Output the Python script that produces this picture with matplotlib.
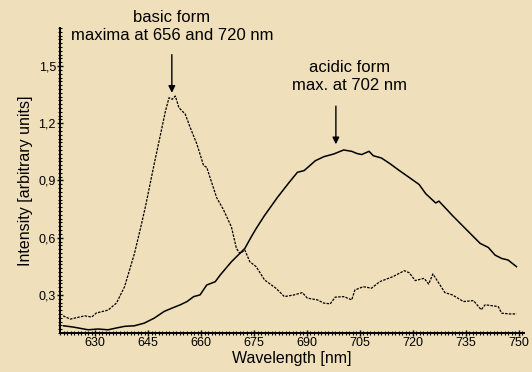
import matplotlib
matplotlib.use("Agg")
import matplotlib.pyplot as plt
from matplotlib.ticker import MultipleLocator, FuncFormatter

# basic form (dotted curve)
basic_nm = [620.9, 622.9, 627.0, 629.0, 630.3, 633.6, 636.0, 638.3, 641.1, 642.9,
            644.3, 646.7, 648.5, 649.9, 650.9, 651.8, 652.7, 653.7, 655.5, 656.9,
            658.8, 660.7, 661.6, 662.5, 664.4, 666.3, 668.6, 670.0, 671.0, 672.4,
            673.8, 675.6, 678.0, 681.2, 683.6, 686.4, 688.7, 690.1, 692.9, 694.8,
            696.6, 698.0, 700.4, 702.7, 703.6, 706.0, 708.3, 710.6, 714.4, 717.6,
            719.0, 720.7, 723.2, 724.5, 725.7, 729.1, 731.2, 734.4, 737.2, 739.4,
            740.5, 744.2, 745.2, 747.5, 749.4]
basic_val = [0.19, 0.173, 0.19, 0.184, 0.205, 0.22, 0.257, 0.343, 0.517, 0.656,
             0.77, 0.987, 1.143, 1.265, 1.334, 1.326, 1.343, 1.282, 1.248, 1.178,
             1.091, 0.978, 0.969, 0.917, 0.81, 0.748, 0.656, 0.544, 0.517, 0.535,
             0.474, 0.448, 0.378, 0.335, 0.291, 0.30, 0.312, 0.283, 0.274, 0.257,
             0.253, 0.288, 0.291, 0.274, 0.326, 0.343, 0.335, 0.369, 0.396, 0.427,
             0.416, 0.375, 0.387, 0.357, 0.41, 0.312, 0.30, 0.265, 0.27, 0.222,
             0.248, 0.239, 0.204, 0.20, 0.20]

# acidic form (solid curve)
acid_nm = [621.0, 623.8, 628.0, 630.8, 633.6, 635.9, 638.3, 641.1, 643.9, 646.7,
           649.5, 651.8, 654.1, 656.0, 657.9, 659.7, 661.6, 664.0, 665.4, 668.6,
           670.5, 672.4, 674.2, 675.6, 678.0, 681.7, 685.0, 687.3, 689.2, 692.4,
           694.8, 697.6, 700.4, 702.7, 704.1, 705.5, 707.6, 708.8, 711.1, 713.4,
           716.2, 718.6, 721.8, 723.7, 726.5, 727.4, 731.2, 734.9, 739.1, 741.4,
           743.3, 745.2, 747.0, 749.4]
acid_val = [0.138, 0.131, 0.117, 0.121, 0.117, 0.126, 0.135, 0.138, 0.152, 0.178,
            0.213, 0.231, 0.248, 0.265, 0.291, 0.30, 0.352, 0.369, 0.404, 0.474,
            0.509, 0.544, 0.604, 0.648, 0.717, 0.813, 0.891, 0.943, 0.952, 1.004,
            1.025, 1.039, 1.06, 1.053, 1.042, 1.036, 1.053, 1.03, 1.018, 0.99,
            0.952, 0.921, 0.879, 0.83, 0.782, 0.792, 0.717, 0.648, 0.57, 0.549,
            0.509, 0.491, 0.483, 0.448]

x_ticks = [630, 645, 660, 675, 690, 705, 720, 735, 750]
y_ticks = [0.3, 0.6, 0.9, 1.2, 1.5]

bg = '#efdfba'
plt.rcParams['font.family'] = ['Liberation Sans', 'DejaVu Sans']

fig = plt.figure(figsize=(5.32, 3.72), dpi=100, facecolor=bg)
ax = fig.add_axes([0.1128, 0.1048, 0.872, 0.82], facecolor=bg)

ax.plot(basic_nm, basic_val, color='black', lw=0.9, ls=(0, (2, 1)))
ax.plot(acid_nm, acid_val, color='black', lw=1.1)

ax.set_xlim(620, 751.5)
ax.set_ylim(0.1, 1.7)

for s in ['top', 'right']:
    ax.spines[s].set_visible(False)
for s in ['left', 'bottom']:
    ax.spines[s].set_linewidth(1.4)

ax.set_xticks(x_ticks)
ax.set_yticks(y_ticks)
ax.yaxis.set_major_formatter(FuncFormatter(lambda v, p: f'{v:.1f}'.replace('.', ',')))
ax.xaxis.set_minor_locator(MultipleLocator(1))
ax.yaxis.set_minor_locator(MultipleLocator(0.02))
ax.tick_params(which='major', direction='inout', length=4, width=1, labelsize=9, pad=1)
ax.tick_params(which='minor', direction='inout', length=2.5, width=0.8)

ax.set_xlabel('Wavelength [nm]', fontsize=11.5, labelpad=1)
ax.set_ylabel('Intensity [arbitrary units]', fontsize=11.5, labelpad=4)

arrow = dict(arrowstyle='-|>', color='black', lw=1, mutation_scale=10, shrinkA=0, shrinkB=0)

ax.text(651.7, 1.62, 'basic form\nmaxima at 656 and 720 nm',
        ha='center', va='bottom', fontsize=12, linespacing=1.25)
ax.annotate('', xy=(651.7, 1.36), xytext=(651.7, 1.56), arrowprops=arrow)

ax.text(702.0, 1.36, 'acidic form\nmax. at 702 nm',
        ha='center', va='bottom', fontsize=12, linespacing=1.25)
ax.annotate('', xy=(698.2, 1.09), xytext=(698.2, 1.29), arrowprops=arrow)

fig.savefig('out.png', dpi=100, facecolor=bg)
